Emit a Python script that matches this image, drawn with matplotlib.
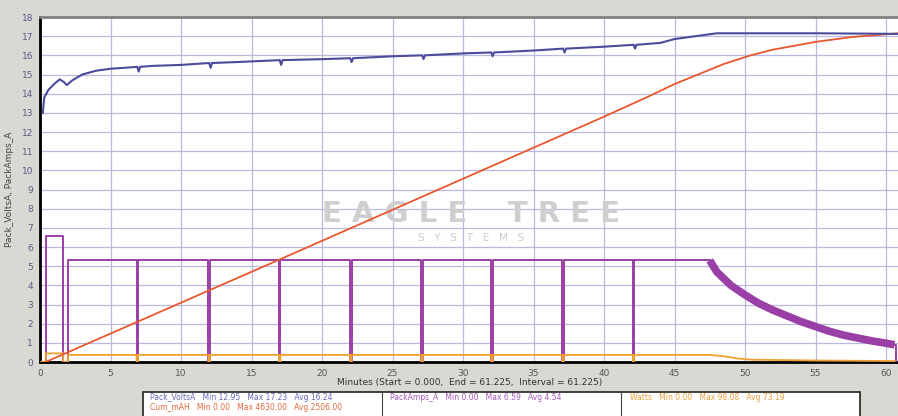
import matplotlib.pyplot as plt
from matplotlib.patches import Rectangle

# Pack voltage (blue)
volt_t = [0.2, 0.3, 0.6, 1.0, 1.4, 1.7, 1.9, 2.3, 3.0, 4.0, 5.0, 6.0, 6.9, 7.0, 7.1,
          8.0, 10.0, 12.0, 12.1, 12.2, 14.0, 17.0, 17.1, 17.2, 20.0, 22.0, 22.1, 22.2,
          25.0, 27.1, 27.2, 27.3, 30.0, 32.0, 32.1, 32.2, 35.0, 37.1, 37.2, 37.3,
          40.0, 42.1, 42.2, 42.3, 44.0, 45.0, 46.0, 47.0, 48.0, 50.0, 55.0, 60.9]
volt_v = [13.0, 13.8, 14.2, 14.5, 14.75, 14.6, 14.45, 14.7, 15.0, 15.2, 15.3, 15.35, 15.4, 15.15, 15.4,
          15.45, 15.5, 15.6, 15.35, 15.6, 15.65, 15.75, 15.5, 15.75, 15.8, 15.85, 15.65, 15.85,
          15.95, 16.0, 15.8, 16.0, 16.1, 16.15, 15.95, 16.15, 16.25, 16.35, 16.15, 16.35,
          16.45, 16.55, 16.35, 16.55, 16.65, 16.85, 16.95, 17.05, 17.15, 17.15, 17.15, 17.12]

# Pack current (purple)
amps_start = [0.4, 1.65, 6.55]      # start, end, level of first block
amps_level = 5.3
amps_on = 2.0
amps_dips = [6.9, 12.0, 17.0, 22.05, 27.1, 32.05, 37.1, 42.1]
decay_t = [47.5, 48, 49, 50, 51, 52, 53, 54, 55, 56, 57, 58, 59, 60, 60.6]
decay_a = [5.3, 4.7, 4.0, 3.5, 3.05, 2.7, 2.4, 2.1, 1.85, 1.6, 1.4, 1.25, 1.1, 0.98, 0.9]

# Cumulative mAh (red-orange, scaled to axis)
mah_t = [0.4, 17.0, 40.0, 43.0, 45.0, 47.0, 48.5, 50.4, 52.0, 55.0, 57.5, 60.9]
mah_v = [0.0, 5.35, 12.8, 13.8, 14.5, 15.1, 15.55, 16.0, 16.3, 16.7, 16.95, 17.15]

# Watts (orange, scaled)
watt_level = 0.37
watt_t = [47.5, 48.5, 49.5, 50.5, 55.0, 60.6]
watt_v = [0.37, 0.3, 0.18, 0.12, 0.08, 0.05]

xticks = list(range(0, 61, 5))
yticks = list(range(0, 19))

legend_rows = [
    [("Pack_VoltsA   Min 12.95   Max 17.23   Avg 16.24", "#6a6ab8"),
     ("PackAmps_A   Min 0.00   Max 6.59   Avg 4.54", "#a65ab8"),
     ("Watts   Min 0.00   Max 98.08   Avg 73.19", "#eaa040")],
    [("Cum_mAH   Min 0.00   Max 4630.00   Avg 2506.00", "#e2683a"), None, None],
]

# build step traces from the values above
at = [0.0, amps_start[0], amps_start[0], amps_start[1], amps_start[1], amps_on, amps_on]
av = [0.0, 0.0, amps_start[2], amps_start[2], 0.0, 0.0, amps_level]
wt = [0.0, amps_start[0], amps_start[0], amps_start[1], amps_start[1], amps_on, amps_on]
wv = [0.0, 0.0, watt_level + 0.08, watt_level + 0.08, 0.0, 0.0, watt_level]
for d in amps_dips:
    at += [d - 0.05, d - 0.05, d + 0.05, d + 0.05]
    av += [amps_level, 0.0, 0.0, amps_level]
    wt += [d - 0.05, d - 0.05, d + 0.05, d + 0.05]
    wv += [watt_level, 0.0, 0.0, watt_level]
at += [decay_t[0]]
av += [amps_level]
wt += watt_t
wv += watt_v

fig = plt.figure(figsize=(8.98, 4.16), dpi=100, facecolor="#d9d8d2")
ax = fig.add_axes([40 / 898, 1 - 362 / 416, 858 / 898, 345 / 416])
ax.set_facecolor("white")

ax.set_xlim(0, 60.85)
ax.set_ylim(0, 18)
ax.set_xticks(xticks)
ax.set_yticks(yticks)
ax.grid(True, color="#b8b8e0", linewidth=0.9)
ax.set_axisbelow(True)

ax.plot(at, av, color="#9a3fa6", linewidth=1.4, zorder=3)
ax.plot(decay_t, decay_a, color="#9a3fa6", linewidth=5.5, zorder=3,
        solid_capstyle="butt", solid_joinstyle="round")
ax.plot([decay_t[-1], decay_t[-1] + 0.1, decay_t[-1] + 0.1], [decay_a[-1], decay_a[-1], 0.0],
        color="#9a3fa6", linewidth=1.4, zorder=3)
ax.plot(wt, wv, color="#f0a030", linewidth=1.3, zorder=4)
ax.plot(mah_t, mah_v, color="#e8582e", linewidth=1.3, zorder=5)
ax.plot(volt_t, volt_v, color="#4b4b9c", linewidth=1.5, zorder=6)

# watermark
ax.text(0.502, 0.43, "E A G L E    T R E E", transform=ax.transAxes, ha="center", va="center",
        fontsize=21, fontweight="bold", color="#cfcfcf", zorder=2)
ax.text(0.502, 0.36, "S   Y   S   T   E   M   S", transform=ax.transAxes, ha="center", va="center",
        fontsize=7.5, color="#cccccc", zorder=2)

for s in ["left", "bottom"]:
    ax.spines[s].set_color("black")
    ax.spines[s].set_linewidth(2.0)
ax.spines["top"].set_color("#808080")
ax.spines["top"].set_linewidth(2.0)
ax.spines["right"].set_visible(False)

ax.tick_params(axis="both", length=0, labelsize=6.5, pad=5)
for lbl in ax.get_yticklabels():
    lbl.set_color("#5a5a88")
for lbl in ax.get_xticklabels():
    lbl.set_color("#555555")

fig.text(0.523, 1 - 383 / 416, "Minutes (Start = 0.000,  End = 61.225,  Interval = 61.225)",
         ha="center", va="center", fontsize=6.5, color="#333333")
fig.text(10 / 898, 0.545, "Pack_VoltsA, PackAmps_A", rotation=90, ha="center", va="center",
         fontsize=6.5, color="#444444")

# statistics box
x0, x1 = 143 / 898, 860 / 898
y0, y1 = 0.0, 1 - 392 / 416
fig.patches.append(Rectangle((x0, y0 - 0.02), x1 - x0, y1 - y0 + 0.02, transform=fig.transFigure,
                             facecolor="white", edgecolor="#222222", linewidth=1.2))
for xd in [382 / 898, 621 / 898]:
    fig.lines.append(plt.Line2D([xd, xd], [y0, y1], transform=fig.transFigure,
                                color="#444444", linewidth=0.8))
col_x = [150 / 898, 390 / 898, 630 / 898]
row_y = [1 - 397 / 416, 1 - 408 / 416]
for r, row in enumerate(legend_rows):
    for c, item in enumerate(row):
        if item is None:
            continue
        fig.text(col_x[c], row_y[r], item[0], ha="left", va="center", fontsize=5.5, color=item[1])

fig.savefig("out.png", dpi=100, facecolor=fig.get_facecolor())
